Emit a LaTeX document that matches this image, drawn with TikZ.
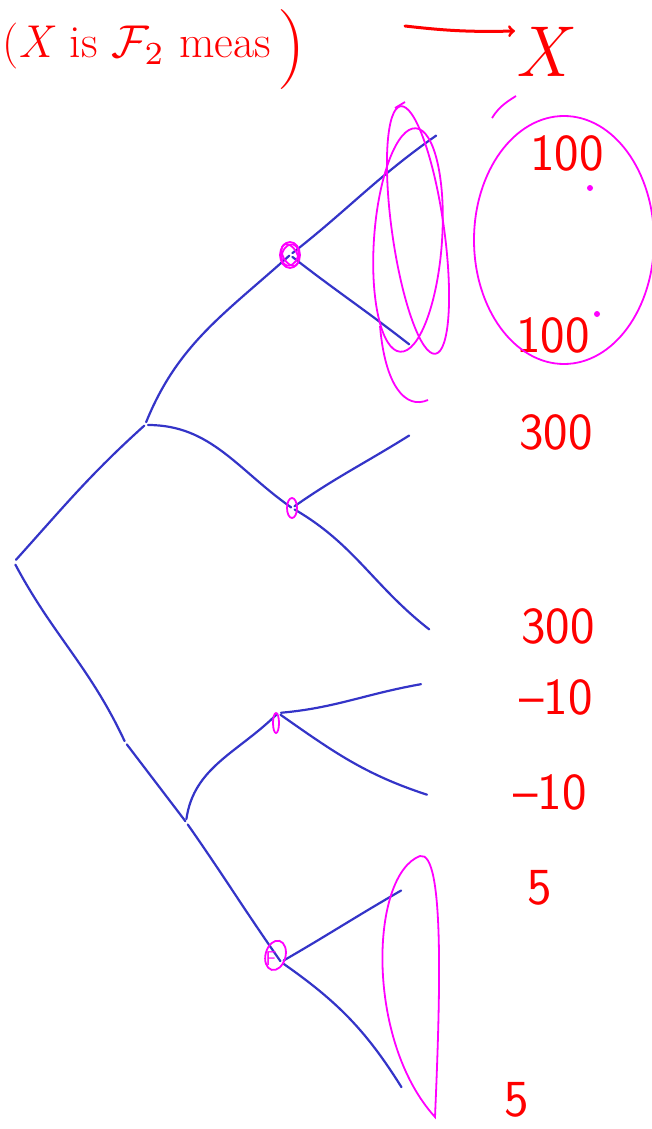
\documentclass[tikz,border=0pt]{standalone}
\usepackage{amsmath,amssymb}
\usepackage{graphicx}
\usepackage{tikz}
\usetikzlibrary{arrows}
\usepackage{xcolor}
\definecolor{pen}{RGB}{52,52,200}
\definecolor{ink}{RGB}{255,0,0}
\definecolor{hilite}{RGB}{255,0,255}
\tikzset{
	branch/.style={draw=pen, line width=2.2pt, line cap=round, shorten <=3pt, shorten >=1pt},
	payoff/.style={text=ink, font=\sffamily\fontsize{52}{52}\selectfont, inner sep=0pt},
	ring/.style={draw=hilite, line width=1.8pt}
}

\begin{document}
\begin{tikzpicture}[x=1pt,y=1pt]
	\useasboundingbox (0,0) rectangle (652,-1129);

	\coordinate (root) at (14,-562);
	\coordinate (up) at (145,-425);
	\coordinate (down) at (186,-822);
	\coordinate (kink) at (125,-742);
	\coordinate (aa) at (290,-255);
	\coordinate (ab) at (292,-508);
	\coordinate (ba) at (278,-713);
	\coordinate (bb) at (281,-962);
	\coordinate (l1) at (437,-135);
	\coordinate (l2) at (410,-345);
	\coordinate (l3) at (410,-435);
	\coordinate (l4) at (430,-630);
	\coordinate (l5) at (422,-684);
	\coordinate (l6) at (428,-795);
	\coordinate (l7) at (402,-890);
	\coordinate (l8) at (402,-1088);

	\draw[branch] (root) to[out=48,in=222] (up);
	\draw[branch] (root) to[out=-62,in=115] (kink);
	\draw[branch] (kink) to (down);
	\draw[branch] (up) to[out=68,in=222] (aa);
	\draw[branch] (up) to[out=0,in=145] (ab);
	\draw[branch] (down) to[out=82,in=225] (ba);
	\draw[branch] (down) to[out=-55,in=125] (bb);
	\draw[branch] (aa) to[out=38,in=215] (l1);
	\draw[branch] (aa) to[out=-38,in=142] (l2);
	\draw[branch] (ab) to[out=35,in=212] (l3);
	\draw[branch] (ab) to[out=-30,in=142] (l4);
	\draw[branch] (ba) to[out=5,in=190] (l5);
	\draw[branch] (ba) to[out=-35,in=162] (l6);
	\draw[branch] (bb) to[out=30,in=210] (l7);
	\draw[branch] (bb) to[out=-35,in=122] (l8);

	\node[payoff] (v1) at (567,-153) {100};
	\node[payoff] (v2) at (553,-335) {100};
	\node[payoff] (v3) at (556,-432) {300};
	\node[payoff] (v4) at (558,-626) {300};
	\node[payoff] (v5) at (556,-697) {--10};
	\node[payoff] (v6) at (550,-792) {--10};
	\node[payoff] (v7) at (540,-888) {5};
	\node[payoff] (v8) at (517,-1100) {5};

	\node[text=ink, font=\fontsize{46}{46}\selectfont, anchor=west, inner sep=0pt] (head) at (2,-46) {(\textit{X} is {\normalsize\scalebox{4.6}{$\mathcal{F}_2$}} meas};
	\node[text=ink, font=\fontsize{80}{80}\selectfont, inner sep=0pt] (paren) at (292,-50) {)};
	\node[text=ink, font=\fontsize{72}{72}\selectfont, inner sep=0pt] (rv) at (545,-52) {\textit{X}};
	\coordinate (tail) at (405,-26);
	\coordinate (tip) at (515,-31);
	\draw[ink, line width=3pt, line cap=round, -to] (tail) to[bend right=4] (tip);

	\draw[ring] (aa) ellipse (10 and 13);
	\draw[ring, rotate around={30:(aa)}] (aa) ellipse (7 and 12);
	\draw[ring, rotate around={-20:(aa)}] (aa) ellipse (8 and 11);
	\draw[ring] (ab) ellipse (5 and 10);
	\draw[ring] (ba) ++(-2,-10) ellipse (3 and 10);
	\draw[ring, rotate around={-15:(bb)}] (bb) ++(-7,5) ellipse (10 and 15);
	\node[text=hilite, font=\sffamily\fontsize{20}{20}\selectfont, inner sep=0pt] (mark) at (271,-959) {F};

	\draw[ring, rotate around={-4:(408,-240)}] (408,-240) ellipse (34 and 112);
	\draw[ring, rotate around={8:(418,-230)}] (418,-230) ellipse (26 and 125);
	\draw[ring] (380,-326) .. controls (385,-385) and (405,-410) .. (428,-400);
	\draw[ring] (395,-108) -- (405,-102);
	\draw[ring] (564,-240) ellipse (90 and 124);
	\draw[ring] (516,-96) .. controls (510,-100) and (500,-105) .. (492,-118);
	\draw[ring] (435,-1117) .. controls (365,-1040) and (370,-875) .. (420,-856) .. controls (445,-850) and (440,-1000) .. cycle;
	\fill[hilite] (590,-188) circle (3);
	\fill[hilite] (597,-314) circle (3);
\end{tikzpicture}
\end{document}
